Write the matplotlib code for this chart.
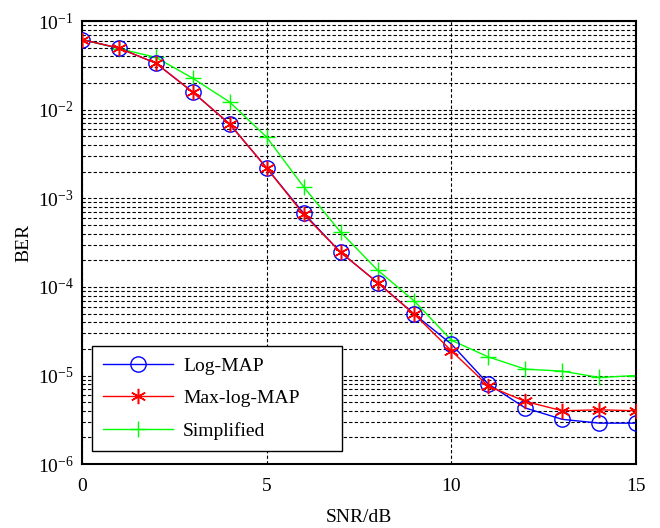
import matplotlib
matplotlib.use("Agg")
import matplotlib.pyplot as plt
from matplotlib.ticker import LogLocator, NullFormatter, MultipleLocator

plt.rcParams['font.family'] = ['Liberation Serif', 'DejaVu Serif']
plt.rcParams['mathtext.fontset'] = 'stix'

# -----------------------------
# Data
# -----------------------------
snr = [0, 1, 2, 3, 4, 5, 6, 7, 8, 9, 10, 11, 12, 13, 14, 15]
ber_logmap = [0.062, 0.0496, 0.0336, 0.0158, 0.0069, 0.0022, 6.8e-4, 2.46e-4,
              1.12e-4, 4.9e-5, 2.26e-5, 8.0e-6, 4.3e-6, 3.2e-6, 2.9e-6, 2.9e-6]
ber_maxlog = [0.062, 0.0496, 0.0336, 0.0158, 0.0069, 0.0022, 6.6e-4, 2.46e-4,
              1.12e-4, 4.9e-5, 1.9e-5, 7.6e-6, 5.1e-6, 4.0e-6, 4.1e-6, 4.0e-6]
ber_simple = [0.062, 0.049, 0.039, 0.0227, 0.0122, 0.0049, 1.35e-3, 4.16e-4,
              1.55e-4, 6.9e-5, 2.5e-5, 1.62e-5, 1.18e-5, 1.12e-5, 9.5e-6, 1.0e-5]

fig = plt.figure(figsize=(6.6, 5.28), dpi=100)
ax = fig.add_axes([0.124, 0.121, 0.840, 0.839])

ax.semilogy(snr, ber_logmap, color='blue', lw=1, marker='o', ms=11,
            mfc='none', mec='blue', mew=1, label='Log-MAP', zorder=3)
ax.semilogy(snr, ber_maxlog, color='red', lw=1, marker=(6, 2, 0), ms=11,
            mec='red', mew=1.1, label='Max-log-MAP', zorder=4)
ax.semilogy(snr, ber_simple, color='#00ff00', lw=1, marker='+', ms=11,
            mew=1, label='Simplified', zorder=2)

ax.set_xlim(0, 15)
ax.set_ylim(1e-6, 1e-1)
ax.xaxis.set_major_locator(MultipleLocator(5))
ax.yaxis.set_major_locator(LogLocator(base=10, numticks=10))
ax.yaxis.set_minor_locator(LogLocator(base=10, subs=range(2, 10), numticks=10))
ax.yaxis.set_minor_formatter(NullFormatter())

ax.grid(True, which='major', axis='both', color='black', ls=(0, (3, 2)), lw=0.8)
ax.grid(True, which='minor', axis='y', color='black', ls=(0, (3, 2)), lw=0.8)
ax.set_axisbelow(True)

ax.tick_params(which='both', direction='in', labelsize=14, length=0)
ax.tick_params(axis='x', pad=10)
ax.tick_params(axis='y', pad=6)
for sp in ax.spines.values():
    sp.set_linewidth(1.5)

ax.set_xlabel('SNR/dB', fontsize=14, labelpad=10)
ax.set_ylabel('BER', fontsize=14, labelpad=4)

leg = ax.legend(loc='lower left', bbox_to_anchor=(0.018, 0.029, 0.451, 0.2),
                mode='expand', fontsize=14,
                fancybox=False, framealpha=1, edgecolor='black',
                borderaxespad=0, borderpad=0.6, labelspacing=0.75,
                handlelength=3.6, handletextpad=0.5)
leg.get_frame().set_linewidth(1.0)

fig.savefig('out.png', dpi=100)
